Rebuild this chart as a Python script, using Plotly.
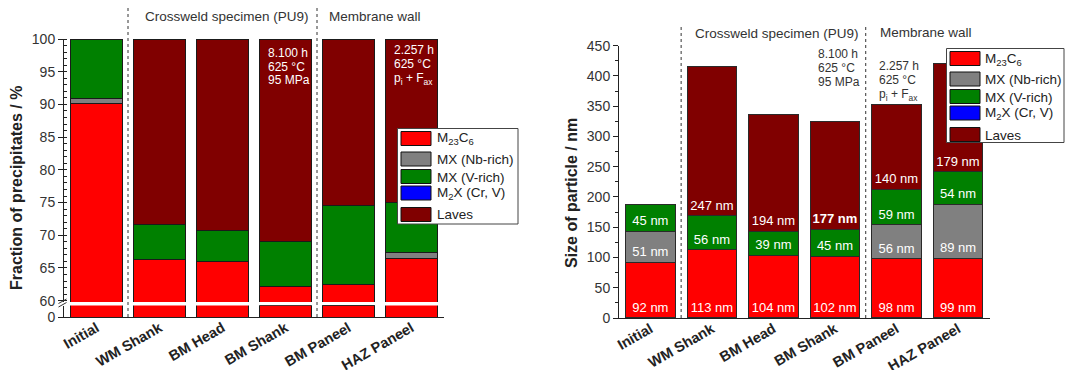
import plotly.graph_objects as go

W, H = 1066, 370

categories = ["Initial", "WM Shank", "BM Head", "BM Shank", "BM Paneel", "HAZ Paneel"]
series_names = ["M<sub>23</sub>C<sub>6</sub>", "MX (Nb-rich)", "MX (V-rich)",
                "M<sub>2</sub>X (Cr, V)", "Laves"]
series_colors = ["#FF0000", "#808080", "#008000", "#0000FF", "#800000"]

# Fraction of precipitates (%)
frac_m23c6 = [90.2, 66.3, 66.0, 62.1, 62.4, 66.5]
frac_mx_nb = [0.7, 0, 0, 0, 0.15, 0.9]
frac_mx_v = [9.1, 5.4, 4.7, 7.0, 12.0, 7.6]
frac_m2x = [0, 0, 0, 0, 0, 0]
frac_laves = [0, 28.3, 29.3, 30.9, 25.45, 25.0]

# Size of particle (nm)
size_m23c6 = [92, 113, 104, 102, 98, 99]
size_mx_nb = [51, 0, 0, 0, 56, 89]
size_mx_v = [45, 56, 39, 45, 59, 54]
size_m2x = [0, 0, 0, 0, 0, 0]
size_laves = [0, 247, 194, 177, 140, 179]

left_ticks = [60, 65, 70, 75, 80, 85, 90, 95, 100]
right_ticks = [0, 50, 100, 150, 200, 250, 300, 350, 400, 450]

group_labels = ["Crossweld specimen (PU9)", "Membrane wall"]
cond_crossweld = ["8.100 h", "625 °C", "95 MPa"]
cond_membrane = ["2.257 h", "625 °C", "p<sub>i</sub> + F<sub>ax</sub>"]

FONT = "Liberation Sans, Arial, sans-serif"
TXT = "#222222"

frac_series = [frac_m23c6, frac_mx_nb, frac_mx_v, frac_m2x, frac_laves]
size_series = [size_m23c6, size_mx_nb, size_mx_v, size_m2x, size_laves]


def fx(px):
    return px / W


def fy(py):
    return 1 - py / H


def nz(vals):
    return [v if v else None for v in vals]


fig = go.Figure()

# Left panel: top (60-100) and bottom (0-...) parts of broken axis
for name, col, vals in zip(series_names, series_colors, frac_series):
    for xa, ya in (("x", "y"), ("x2", "y2")):
        fig.add_trace(go.Bar(
            x=categories, y=nz(vals), name=name, xaxis=xa, yaxis=ya,
            marker=dict(color=col, line=dict(color="#1a1a1a", width=1)),
            width=0.81, showlegend=False, hoverinfo="x+y",
        ))

# Right panel
for name, col, vals in zip(series_names, series_colors, size_series):
    texts = []
    for c, v in zip(categories, vals):
        if not v:
            texts.append("")
        elif name == "Laves" and c == "BM Shank":
            texts.append(f"<b>{v} nm</b>")
        else:
            texts.append(f"{v} nm")
    fig.add_trace(go.Bar(
        x=categories, y=nz(vals), name=name, xaxis="x3", yaxis="y3",
        marker=dict(color=col, line=dict(color="#2a2a2a", width=1)),
        width=0.805, showlegend=False,
        text=texts, textposition="inside", insidetextanchor="start",
        textangle=0, textfont=dict(family=FONT, size=13, color="white"),
        hoverinfo="x+y",
    ))

axis_common = dict(showgrid=False, zeroline=False, linecolor="#222", linewidth=1,
                   automargin=False,
                   tickcolor="#222", tickfont=dict(family=FONT, size=14, color="#333"))

xl_dom = [fx(64), fx(444)]
xr_dom = [fx(619), fx(990)]
xtick_font = dict(family=FONT, size=14.5, color=TXT, weight="bold")

fig.update_layout(
    width=W, height=H, margin=dict(l=0, r=0, t=0, b=0, autoexpand=False),
    paper_bgcolor="white", plot_bgcolor="white",
    barmode="stack", showlegend=False,
    uniformtext=dict(minsize=13, mode="show"),
    font=dict(family=FONT, color=TXT),
    xaxis=dict(domain=xl_dom, anchor="y", type="category", range=[-0.516, 5.516],
               showticklabels=False, showline=False, ticks="", showgrid=False,
               zeroline=False, automargin=False),
    yaxis=dict(domain=[fy(302), fy(39)], anchor="x", range=[59.8, 100],
               tickvals=left_ticks, ticks="outside", ticklen=5, showline=True,
               minor=dict(dtick=1, ticks="inside", ticklen=3, tickcolor="#222"),
               **axis_common),
    xaxis2=dict(domain=xl_dom, anchor="y2", type="category", range=[-0.516, 5.516],
                showline=True, ticks="", tickangle=-30, automargin=False,
                ticklabelstandoff=-4,
                showgrid=False, zeroline=False, linecolor="#222", linewidth=1,
                tickfont=xtick_font),
    yaxis2=dict(domain=[fy(317), fy(305.5)], anchor="x2", range=[0, 60],
                tickvals=[0], ticks="outside", ticklen=5, showline=True,
                **axis_common),
    xaxis3=dict(domain=xr_dom, anchor="y3", type="category", range=[-0.51, 5.52],
                showline=True, ticks="", tickangle=-30, automargin=False,
                ticklabelstandoff=-4,
                showgrid=False, zeroline=False, linecolor="#222", linewidth=1,
                tickfont=xtick_font),
    yaxis3=dict(domain=[fy(318), fy(45.7)], anchor="x3", range=[0, 450],
                tickvals=right_ticks, ticks="outside", ticklen=5, showline=True,
                minor=dict(dtick=25, ticks="outside", ticklen=3, tickcolor="#222"),
                **axis_common),
)

shapes = []
annotations = []

# dotted separators between groups
for xref, ytop, ybot in (("x2", 5, 317), ("x3", 27, 318)):
    for xv in (0.5, 3.5):
        shapes.append(dict(type="line", xref=xref, yref="paper", x0=xv, x1=xv,
                           y0=fy(ybot), y1=fy(ytop),
                           line=dict(color="#333", width=1, dash="dot")))

# axis break marks
for dy in (0, 3.5):
    shapes.append(dict(type="line", xref="paper", yref="paper",
                       x0=fx(58.5), x1=fx(66.5), y0=fy(303.5 + dy), y1=fy(299 + dy),
                       line=dict(color="#333", width=1)))

# axis titles
annotations.append(dict(text="<b>Fraction of precipitates / %</b>", xref="paper", yref="paper",
                        x=fx(16), y=fy(188), textangle=-90, showarrow=False,
                        font=dict(family=FONT, size=16, color=TXT),
                        xanchor="center", yanchor="middle"))
annotations.append(dict(text="<b>Size of particle / nm</b>", xref="paper", yref="paper",
                        x=fx(571), y=fy(193), textangle=-90, showarrow=False,
                        font=dict(family=FONT, size=16, color=TXT),
                        xanchor="center", yanchor="middle"))

# group labels
for (cx, cy), t in zip([(227, 17), (375, 17)], group_labels):
    annotations.append(dict(text=t, xref="paper", yref="paper", x=fx(cx), y=fy(cy),
                            showarrow=False, font=dict(family=FONT, size=13.5, color="#333"),
                            xanchor="center", yanchor="middle"))
for (cx, cy), t in zip([(777, 34), (926, 33)], group_labels):
    annotations.append(dict(text=t, xref="paper", yref="paper", x=fx(cx), y=fy(cy),
                            showarrow=False, font=dict(family=FONT, size=13.5, color="#333"),
                            xanchor="center", yanchor="middle"))


# test conditions
def add_cond(lines, x0, ys, color):
    for t, yy in zip(lines, ys):
        annotations.append(dict(text=t, xref="paper", yref="paper", x=fx(x0), y=fy(yy),
                                showarrow=False, font=dict(family=FONT, size=12, color=color),
                                xanchor="left", yanchor="middle"))


add_cond(cond_crossweld, 266, [53, 67, 80], "white")
add_cond(cond_membrane, 392, [50, 64, 79], "white")
add_cond(cond_crossweld, 816, [54, 68, 82], "#333")
add_cond(cond_membrane, 877, [66, 80, 95], "#333")

# legends
entry_offsets = [3, 23.5, 41, 57.5, 79]


def add_legend(bx0, by0, bx1, by1, sx0, tx0):
    shapes.append(dict(type="rect", xref="paper", yref="paper",
                       x0=fx(bx0), x1=fx(bx1), y0=fy(by1), y1=fy(by0),
                       fillcolor="white", line=dict(color="#444", width=1)))
    for off, name, col in zip(entry_offsets, series_names, series_colors):
        top = by0 + off
        shapes.append(dict(type="rect", xref="paper", yref="paper",
                           x0=fx(sx0), x1=fx(sx0 + 30), y0=fy(top + 14), y1=fy(top),
                           fillcolor=col, line=dict(color="#111", width=1)))
        annotations.append(dict(text=name, xref="paper", yref="paper",
                                x=fx(tx0), y=fy(top + 7.5), showarrow=False,
                                font=dict(family=FONT, size=13.5, color=TXT),
                                xanchor="left", yanchor="middle"))


add_legend(397.5, 128.5, 518, 224, 401, 434.5)
add_legend(946.5, 48.5, 1064, 142.5, 950, 982.5)

fig.update_layout(shapes=shapes, annotations=annotations)

fig.write_html("out.html", config={"displayModeBar": False},
               post_script="document.body.style.margin='0';document.body.style.overflow='hidden';")
